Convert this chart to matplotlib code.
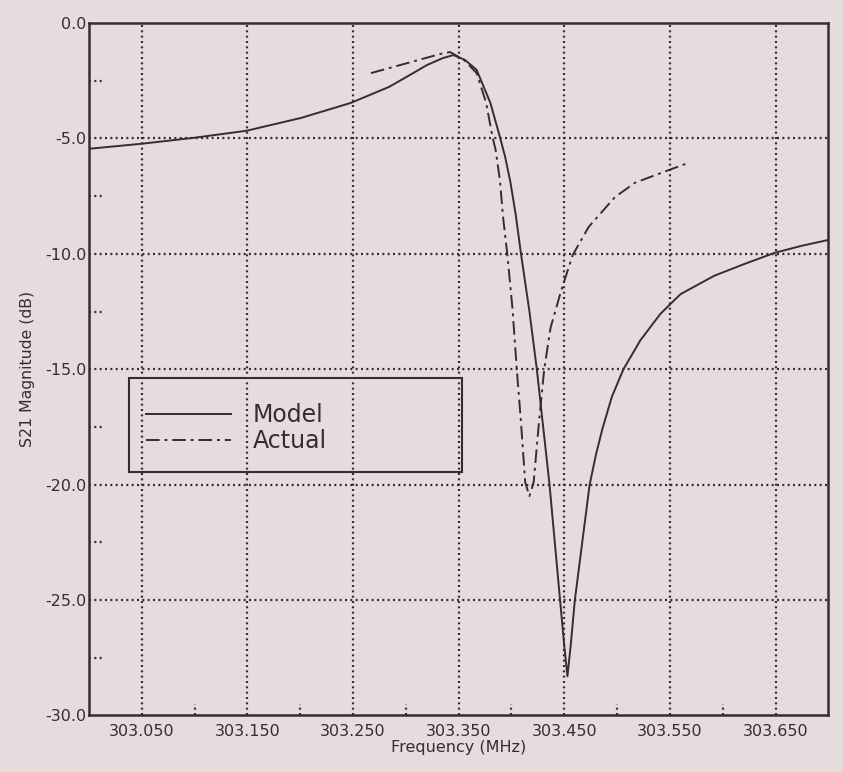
import matplotlib.pyplot as plt
from matplotlib.patches import Rectangle

# Model response (solid)
model_f = [303.000, 303.050, 303.100, 303.149, 303.201, 303.248, 303.284, 303.302,
           303.320, 303.335, 303.345, 303.356, 303.367, 303.380, 303.389, 303.394,
           303.399, 303.404, 303.409, 303.417, 303.424, 303.430, 303.436, 303.441,
           303.446, 303.450, 303.453, 303.456, 303.460, 303.467, 303.474, 303.480,
           303.486, 303.495, 303.506, 303.522, 303.541, 303.560, 303.592, 303.620,
           303.649, 303.675, 303.700]
model_db = [-5.45, -5.23, -4.97, -4.67, -4.11, -3.46, -2.77, -2.3,
            -1.82, -1.52, -1.39, -1.6, -2.03, -3.46, -4.93, -5.8,
            -6.9, -8.3, -10.0, -12.5, -15.0, -17.5, -20.0, -22.5,
            -25.0, -27.0, -28.3, -27.0, -25.0, -22.5, -20.0, -18.7,
            -17.6, -16.2, -15.0, -13.75, -12.6, -11.75, -10.95, -10.45,
            -9.96, -9.65, -9.4]

# Measured response (dash-dot)
actual_f = [303.267, 303.305, 303.336, 303.342, 303.355, 303.367, 303.376, 303.382,
            303.385, 303.389, 303.392, 303.396, 303.401, 303.405, 303.409, 303.413,
            303.417, 303.421, 303.426, 303.431, 303.437, 303.447, 303.458, 303.473,
            303.498, 303.517, 303.545, 303.568]
actual_db = [-2.17, -1.69, -1.3, -1.26, -1.6, -2.17, -3.46, -4.93,
             -5.5, -6.8, -8.4, -10.0, -12.4, -15.0, -17.3, -19.9,
             -20.5, -19.9, -17.3, -15.0, -13.2, -11.6, -10.05, -8.84,
             -7.54, -6.92, -6.44, -6.05]

x_major = [303.05, 303.15, 303.25, 303.35, 303.45, 303.55, 303.65]
x_labels = ['303.050', '303.150', '303.250', '303.350', '303.450', '303.550', '303.650']
x_minor = [303.10, 303.20, 303.30, 303.40, 303.50, 303.60]
y_major = [0, -5, -10, -15, -20, -25, -30]
y_labels = ['0.0', '-5.0', '-10.0', '-15.0', '-20.0', '-25.0', '-30.0']
y_minor = [-2.5, -7.5, -12.5, -17.5, -22.5, -27.5]

paper = '#e4dcdd'
ink = '#352d2e'

fig = plt.figure(figsize=(8.43, 7.72), dpi=100, facecolor=paper)
ax = fig.add_axes([0.1056, 0.0733, 0.877, 0.8969], facecolor=paper)

dot = (0, (0.9, 1.5))
for x in x_major:
    ax.axvline(x, color=ink, lw=1.6, ls=dot, zorder=1)
for y in y_major[1:-1]:
    ax.axhline(y, color=ink, lw=1.6, ls=dot, zorder=1)
for x in x_minor:
    ax.axvline(x, ymin=0, ymax=0.017, color=ink, lw=1.6, ls=dot, zorder=1)
for y in y_minor:
    ax.axhline(y, xmin=0, xmax=0.019, color=ink, lw=1.6, ls=dot, zorder=1)

ax.plot(model_f, model_db, color=ink, lw=1.4, ls='-', label='Model', zorder=3)
ax.plot(actual_f, actual_db, color=ink, lw=1.4, ls=(0, (7, 2.5, 1.5, 2.5)), label='Actual', zorder=3)

ax.set_xlim(303.0, 303.7)
ax.set_ylim(-30, 0)
ax.set_xticks(x_major)
ax.set_xticklabels(x_labels)
ax.set_yticks(y_major)
ax.set_yticklabels(y_labels)
ax.tick_params(length=0, labelsize=11.5, colors=ink)
ax.tick_params(axis='y', pad=2)
ax.tick_params(axis='x', pad=6)
for s in ax.spines.values():
    s.set_color(ink)
    s.set_linewidth(1.8)

ax.set_xlabel('Frequency (MHz)', fontsize=11.5, color=ink, labelpad=1)
ax.set_ylabel('S21 Magnitude (dB)', fontsize=11.3, color=ink, labelpad=7)

# legend box, drawn open so the grid shows through as in the original
ax.add_patch(Rectangle((0.054, 0.3515), 0.451, 0.1355, transform=ax.transAxes,
                       fill=False, edgecolor=ink, lw=1.5, zorder=4))
leg = ax.legend(loc='center left', bbox_to_anchor=(0.077, 0.415), fontsize=17,
                frameon=False, handlelength=3.6, handletextpad=0.93,
                labelspacing=0.07, borderpad=0, borderaxespad=0)
for t in leg.get_texts():
    t.set_color(ink)

plt.savefig('out.png', dpi=100, facecolor=paper)
